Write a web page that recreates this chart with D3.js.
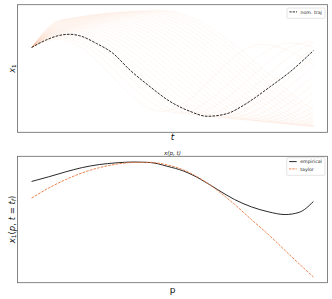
<!DOCTYPE html>
<html>
<head>
<meta charset="utf-8">
<script src="https://cdn.jsdelivr.net/npm/d3@7"></script>
<style>
  html, body { margin: 0; padding: 0; background: #fff; }
  svg { display: block; font-family: "DejaVu Sans", sans-serif; }
</style>
</head>
<body>
<svg id="chart" width="332" height="299"></svg>
<script>
// ---- top panel: nominal trajectory x1(t) ----
const nomT = [0, 0.05, 0.10, 0.135, 0.171, 0.231, 0.288, 0.349, 0.42, 0.491, 0.562, 0.623, 0.694, 0.74, 0.776, 0.847, 0.918, 1.0];
const nomV = [68.1, 74.4, 78.6, 79.5, 78.2, 71.5, 63.2, 48.7, 34.4, 21.6, 13.1, 8.8, 11.1, 16.5, 22.0, 34.4, 47.3, 65.4];

// ---- top panel: perturbed trajectories, key points of each curve (fast -> slow) ----
const famStartV = 68.1;
const famRiseT = [.050, .053, .056, .060, .064, .067, .071, .075, .079, .082, .085, .088, .091, .094, .096, .098, .100, .101, .102, .103, .104, .104, .104, .103, .102, .101];
const famRiseV = [73.4, 74.2, 75.1, 75.9, 76.8, 77.6, 78.5, 79.3, 80.2, 81.0, 81.8, 82.5, 83.3, 84.1, 84.8, 85.6, 86.3, 87.0, 87.7, 88.4, 89.0, 89.7, 90.3, 90.8, 91.3, 91.7];
const famPeakT = [.100, .108, .117, .128, .140, .152, .165, .178, .192, .206, .220, .234, .249, .264, .280, .295, .311, .327, .343, .359, .375, .392, .409, .426, .443, .460];
const famPeakV = [75.2, 76.4, 77.6, 78.7, 79.9, 81.0, 82.2, 83.3, 84.4, 85.5, 86.6, 87.6, 88.7, 89.7, 90.7, 91.7, 92.7, 93.7, 94.6, 95.5, 96.4, 97.3, 98.1, 98.8, 99.5, 100];
const famTroughT = [.466, .522, .563, .601, .635, .669, .700, .731, .761, .790, .819, .847, .874, .901, .928, .954, .980, 1.005, 1.030, 1.055, 1.080, 1.104, 1.129, 1.153, 1.176, 1.200];
const famTroughV = [12.8, 11.5, 10.5, 9.6, 8.7, 7.9, 7.2, 6.4, 5.7, 5.0, 4.3, 3.7, 3.0, 2.4, 1.7, 1.1, 0.5, -0.1, -0.7, -1.3, -1.9, -2.5, -3.1, -3.7, -4.2, -4.8];
const famPeak2T = [.814, .915, .987, 1.050, 1.105, 1.160, 1.208, 1.256, 1.302, 1.345, 1.388, 1.429, 1.468, 1.506, 1.544, 1.580, 1.616, 1.649, 1.683, 1.716, 1.750, 1.780, 1.813, 1.844, 1.872, 1.903];
const famPeak2V = [70.7, 71.9, 73.1, 74.2, 75.4, 76.5, 77.7, 78.8, 79.9, 81.0, 82.1, 83.1, 84.2, 85.2, 86.2, 87.2, 88.2, 89.2, 90.1, 91.0, 91.9, 92.8, 93.6, 94.3, 95.0, 95.5];
const famTrough2T = [1.180, 1.329, 1.433, 1.523, 1.600, 1.677, 1.743, 1.809, 1.871, 1.929, 1.987, 2.042, 2.093, 2.143, 2.192, 2.239, 2.285, 2.327, 2.370, 2.412, 2.455, 2.492, 2.533, 2.571, 2.605, 2.643];
const famTrough2V = [16.8, 15.5, 14.5, 13.6, 12.7, 11.9, 11.2, 10.4, 9.7, 9.0, 8.3, 7.7, 7.0, 6.4, 5.7, 5.1, 4.5, 3.9, 3.3, 2.7, 2.1, 1.5, 0.9, 0.3, -0.2, -0.8];

// ---- bottom panel: x1(p, t = tf) ----
const pGrid = [0, .06, .12, .18, .24, .30, .36, .42, .48, .54, .60, .66, .72, .78, .84, .90, .95, 1.0];
const empiricalV = [83.1, 87.1, 91.4, 95.2, 97.8, 99.3, 100.0, 99.6, 96.4, 92.1, 85.0, 76.0, 67.4, 61.0, 56.7, 54.3, 56.3, 65.7];
const taylorV = [68.6, 77.3, 84.6, 90.6, 95.1, 98.1, 99.6, 99.7, 97.6, 93.0, 85.4, 75.2, 63.2, 49.9, 37.0, 22.9, 11.3, 0];

const left = 17.5, right = 327.5;
const topBox = { y0: 4.7, y1: 132.3 };
const botBox = { y0: 156.3, y1: 282.7 };
const famColor = '#f7905a';
const taylorColor = '#e8743b';

const svg = d3.select('#chart');

const x = d3.scaleLinear().domain([-0.05, 1.05]).range([left, right]);
const yTop = d3.scaleLinear().domain([-5, 105]).range([topBox.y1, topBox.y0]);
const yBot = d3.scaleLinear().domain([-5, 105]).range([botBox.y1, botBox.y0]);

const lineTop = d3.line().x(d => x(d[0])).y(d => yTop(d[1])).curve(d3.curveMonotoneX);
const lineBot = d3.line().x(d => x(d[0])).y(d => yBot(d[1])).curve(d3.curveMonotoneX);

// clip the family to the simulated time span
svg.append('defs').append('clipPath').attr('id', 'tclip')
  .append('rect')
  .attr('x', x(0)).attr('y', topBox.y0)
  .attr('width', x(1) - x(0)).attr('height', topBox.y1 - topBox.y0);

const famCurves = famPeakT.map((_, i) => [
  [0, famStartV],
  [famRiseT[i], famRiseV[i]],
  [famPeakT[i], famPeakV[i]],
  [famTroughT[i], famTroughV[i]],
  [famPeak2T[i], famPeak2V[i]],
  [famTrough2T[i], famTrough2V[i]]
]);

svg.append('g').attr('clip-path', 'url(#tclip)')
  .selectAll('path')
  .data(famCurves)
  .enter()
  .append('path')
  .attr('d', lineTop)
  .attr('fill', 'none')
  .attr('stroke', famColor)
  .attr('stroke-opacity', 0.09)
  .attr('stroke-width', 0.8);

svg.append('path')
  .attr('d', lineTop(nomT.map((t, i) => [t, nomV[i]])))
  .attr('fill', 'none')
  .attr('stroke', '#111')
  .attr('stroke-width', 0.9)
  .attr('stroke-dasharray', '2.6,1.2');

// bottom curves
svg.append('path')
  .attr('d', lineBot(pGrid.map((p, i) => [p, empiricalV[i]])))
  .attr('fill', 'none')
  .attr('stroke', '#111')
  .attr('stroke-width', 0.9);

svg.append('path')
  .attr('d', lineBot(pGrid.map((p, i) => [p, taylorV[i]])))
  .attr('fill', 'none')
  .attr('stroke', taylorColor)
  .attr('stroke-width', 0.9)
  .attr('stroke-dasharray', '2.6,1.2');

// frames
[topBox, botBox].forEach(b => {
  svg.append('rect')
    .attr('x', left).attr('y', b.y0)
    .attr('width', right - left).attr('height', b.y1 - b.y0)
    .attr('fill', 'none')
    .attr('stroke', '#666')
    .attr('stroke-width', 0.8);
});

// legends
function legend(x0, y0, w, items) {
  const g = svg.append('g');
  g.append('rect')
    .attr('x', x0).attr('y', y0)
    .attr('width', w).attr('height', 3 + items.length * 7.3)
    .attr('rx', 1)
    .attr('fill', '#fff')
    .attr('stroke', '#d0d0d0')
    .attr('stroke-width', 0.6);
  items.forEach((it, i) => {
    const yy = y0 + 3.9 + i * 7.3;
    g.append('line')
      .attr('x1', x0 + 2.5).attr('x2', x0 + 10)
      .attr('y1', yy).attr('y2', yy)
      .attr('stroke', it.color)
      .attr('stroke-width', 0.9)
      .attr('stroke-dasharray', it.dash || null);
    g.append('text')
      .attr('x', x0 + 13.5).attr('y', yy + 1.7)
      .attr('font-size', 4.7)
      .attr('fill', '#222')
      .text(it.label);
  });
}
legend(287, 8, 38, [{ label: 'nom. traj', color: '#111', dash: '2.2,1' }]);
legend(286.7, 157.7, 38.3, [
  { label: 'empirical', color: '#111' },
  { label: 'taylor', color: taylorColor, dash: '2.2,1' }
]);

// labels
const mid = (left + right) / 2;
svg.append('text')
  .attr('x', mid).attr('y', 139.5)
  .attr('text-anchor', 'middle')
  .attr('font-size', 9).attr('font-style', 'italic')
  .attr('fill', '#111')
  .text('t');

svg.append('text')
  .attr('x', mid).attr('y', 292.5)
  .attr('text-anchor', 'middle')
  .attr('font-size', 9)
  .attr('fill', '#111')
  .text('p');

svg.append('text')
  .attr('x', mid).attr('y', 154.5)
  .attr('text-anchor', 'middle')
  .attr('font-size', 5.6).attr('font-style', 'italic')
  .attr('fill', '#222')
  .text('x(p, t)');

const yl1 = svg.append('text')
  .attr('transform', `translate(14.5, ${(topBox.y0 + topBox.y1) / 2}) rotate(-90)`)
  .attr('text-anchor', 'middle')
  .attr('font-size', 8)
  .attr('fill', '#111');
yl1.append('tspan').attr('font-style', 'italic').text('x');
yl1.append('tspan').attr('font-size', 5.6).attr('dy', 1.5).text('1');

const yl2 = svg.append('text')
  .attr('transform', `translate(14.5, ${(botBox.y0 + botBox.y1) / 2}) rotate(-90)`)
  .attr('text-anchor', 'middle')
  .attr('font-size', 8.5)
  .attr('fill', '#111');
yl2.append('tspan').attr('font-style', 'italic').text('x');
yl2.append('tspan').attr('font-size', 6).attr('dy', 1.5).text('1');
yl2.append('tspan').attr('dy', -1.5).text('(');
yl2.append('tspan').attr('font-style', 'italic').text('p');
yl2.append('tspan').text(', ');
yl2.append('tspan').attr('font-style', 'italic').text('t');
yl2.append('tspan').text(' = ');
yl2.append('tspan').attr('font-style', 'italic').text('t');
yl2.append('tspan').attr('font-size', 6).attr('font-style', 'italic').attr('dy', 1.5).text('f');
yl2.append('tspan').attr('dy', -1.5).text(')');
</script>
</body>
</html>
